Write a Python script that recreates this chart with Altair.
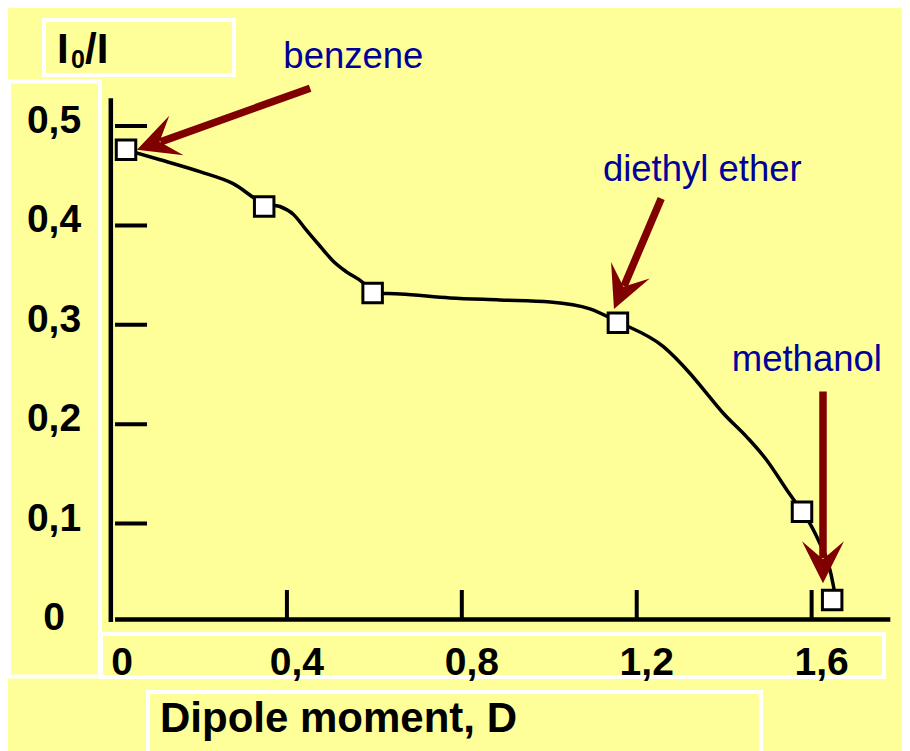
import altair as alt
import pandas as pd

# ---- data ----
dipole = [0.032, 0.348, 0.596, 1.157, 1.578, 1.647]
ratio = [0.476, 0.419, 0.332, 0.302, 0.112, 0.023]

curve_x = [0.032, 0.110, 0.201, 0.277, 0.348, 0.384, 0.415, 0.445, 0.476, 0.506,
           0.537, 0.575, 0.596, 0.659, 0.773, 0.887, 1.002, 1.093, 1.157, 1.261,
           1.322, 1.360, 1.398, 1.452, 1.497, 1.543, 1.578, 1.600, 1.619, 1.638,
           1.650, 1.654]
curve_y = [0.476, 0.466, 0.454, 0.442, 0.422, 0.419, 0.411, 0.395, 0.379, 0.364,
           0.353, 0.342, 0.332, 0.331, 0.327, 0.325, 0.323, 0.316, 0.303, 0.278,
           0.251, 0.231, 0.211, 0.187, 0.164, 0.134, 0.112, 0.097, 0.080, 0.060,
           0.037, 0.027]

x_ticks = [0.4, 0.8, 1.2, 1.6]
x_label_values = [0, 0.4, 0.8, 1.2, 1.6]
x_label_text = ["0", "0,4", "0,8", "1,2", "1,6"]
y_ticks = [0.1, 0.2, 0.3, 0.4, 0.5]
y_label_values = [0, 0.1, 0.2, 0.3, 0.4, 0.5]
y_label_text = ["0", "0,1", "0,2", "0,3", "0,4", "0,5"]

solvents = ["benzene", "diethyl ether", "methanol"]
label_x = [0.552, 1.350, 1.589]
label_y = [0.558, 0.445, 0.253]
arrow_tail_x = [0.453, 1.256, 1.626]
arrow_tail_y = [0.538, 0.427, 0.233]
arrow_neck_x = [0.111, 1.171, 1.626]
arrow_neck_y = [0.484, 0.339, 0.065]
arrow_tip_x = [0.057, 1.148, 1.626]
arrow_tip_y = [0.476, 0.316, 0.040]
arrow_angle = [250, 203, 180]

x_axis_extent = [0, 1.78]
y_axis_extent = [0, 0.528]

# ---- layout (pixels inside the chart) ----
W, H = 894, 743
title_box = (36, 12, 226, 67)
ylabel_box = (1, 73.5, 92, 668.5)
xlabel_box = (93, 626, 876, 669)
xtitle_box = (140, 684, 753, 752)

YELLOW = "#FFFF99"
ARROW = "#800000"
BLUE = "#000099"
FONT = "Liberation Sans"

xs = alt.Scale(domain=[-0.2379, 1.8067], nice=False, zero=False)
ys = alt.Scale(domain=[-0.1288, 0.6187], nice=False, zero=False)


def X(field=None, **kw):
    if field is None:
        return alt.X(type="quantitative", scale=xs, axis=None, **kw)
    return alt.X(field, type="quantitative", scale=xs, axis=None)


def Y(field=None, **kw):
    if field is None:
        return alt.Y(type="quantitative", scale=ys, axis=None, **kw)
    return alt.Y(field, type="quantitative", scale=ys, axis=None)


one = pd.DataFrame({"k": [0]})

pts = pd.DataFrame({"x": dipole, "y": ratio})
curve = pd.DataFrame({"x": curve_x, "y": curve_y})
xt = pd.DataFrame({"v": x_ticks})
yt = pd.DataFrame({"v": y_ticks})
xl = pd.DataFrame({"v": x_label_values, "t": x_label_text})
yl = pd.DataFrame({"v": y_label_values, "t": y_label_text})
ann = pd.DataFrame({
    "name": solvents, "lx": label_x, "ly": label_y,
    "tx": arrow_tail_x, "ty": arrow_tail_y,
    "nx": arrow_neck_x, "ny": arrow_neck_y,
    "px": arrow_tip_x, "py": arrow_tip_y,
    "ang": arrow_angle,
})


def box(b):
    return alt.Chart(one).mark_rect(fill="transparent", stroke="white", strokeWidth=4).encode(
        x=alt.value(b[0]), y=alt.value(b[1]), x2=alt.value(b[2]), y2=alt.value(b[3]))


boxes = [box(b) for b in (title_box, ylabel_box, xlabel_box, xtitle_box)]

x_axis_line = alt.Chart(one).mark_rule(color="black", strokeWidth=4.5, xOffset=3, yOffset=-3.5).encode(
    x=X(datum=x_axis_extent[0]), x2=alt.X2(datum=x_axis_extent[1]), y=Y(datum=0))
y_axis_line = alt.Chart(one).mark_rule(color="black", strokeWidth=4.5, xOffset=-1.2, yOffset=-1).encode(
    x=X(datum=0), y=Y(datum=y_axis_extent[0]), y2=alt.Y2(datum=y_axis_extent[1]))

y_tick_marks = alt.Chart(yt).mark_rule(color="black", strokeWidth=4, xOffset=3, x2Offset=35).encode(
    x=X(datum=0), x2=alt.X2(datum=0), y=Y("v"))
x_tick_marks = alt.Chart(xt).mark_rule(color="black", strokeWidth=4, yOffset=-33, y2Offset=-4).encode(
    x=X("v"), y=Y(datum=0), y2=alt.Y2(datum=0))

y_labels = alt.Chart(yl).mark_text(font=FONT, fontSize=39, fontWeight="bold", color="black",
                                   align="center", baseline="middle", dx=-58, dy=-5).encode(
    x=X(datum=0), y=Y("v"), text="t:N")
x_labels = alt.Chart(xl).mark_text(font=FONT, fontSize=39, fontWeight="bold", color="black",
                                   align="center", baseline="middle", dx=10, dy=40).encode(
    x=X("v"), y=Y(datum=0), text="t:N")

line = alt.Chart(curve).mark_line(color="black", strokeWidth=3.5, interpolate="monotone").encode(
    x=X("x"), y=Y("y"), order="x:Q")
markers = alt.Chart(pts).mark_point(shape="square", filled=True, fill="white", stroke="black",
                                    strokeWidth=3, size=380, opacity=1).encode(x=X("x"), y=Y("y"))

shafts = alt.Chart(ann).mark_rule(color=ARROW, strokeWidth=7.5, strokeCap="butt").encode(
    x=X("tx"), y=Y("ty"), x2="nx:Q", y2="ny:Q")
heads = alt.Chart(ann).mark_point(shape="M0,0 L1.05,2.1 L0,1.2 L-1.05,2.1 Z", filled=True, fill=ARROW,
                                  strokeWidth=0, size=1600, opacity=1).encode(
    x=X("px"), y=Y("py"), angle=alt.Angle("ang:Q", scale=None))
names = alt.Chart(ann).mark_text(font=FONT, fontSize=36.5, color=BLUE, align="center",
                                 baseline="alphabetic").encode(x=X("lx"), y=Y("ly"), text="name:N")

t1 = alt.Chart(one).mark_text(font=FONT, fontSize=42, fontWeight="bold", color="black",
                              align="left", baseline="alphabetic").encode(
    x=alt.value(49), y=alt.value(55), text=alt.value("I"))
t2 = alt.Chart(one).mark_text(font=FONT, fontSize=25, fontWeight="bold", color="black",
                              align="left", baseline="alphabetic").encode(
    x=alt.value(63), y=alt.value(60), text=alt.value("0"))
t3 = alt.Chart(one).mark_text(font=FONT, fontSize=42, fontWeight="bold", color="black",
                              align="left", baseline="alphabetic").encode(
    x=alt.value(77), y=alt.value(55), text=alt.value("/I"))
xtitle = alt.Chart(one).mark_text(font=FONT, fontSize=42, fontWeight="bold", color="black",
                                  align="left", baseline="alphabetic").encode(
    x=alt.value(152), y=alt.value(724), text=alt.value("Dipole moment, D"))

chart = alt.layer(
    *boxes, x_axis_line, y_axis_line, y_tick_marks, x_tick_marks, y_labels, x_labels,
    line, markers, shafts, heads, names, t1, t2, t3, xtitle
).properties(
    width=W, height=H, background=YELLOW, padding=0,
    autosize=alt.AutoSizeParams(type="none"),
).configure_view(stroke=None)

chart.save("out.html", embed_options={"renderer": "svg", "actions": False})
